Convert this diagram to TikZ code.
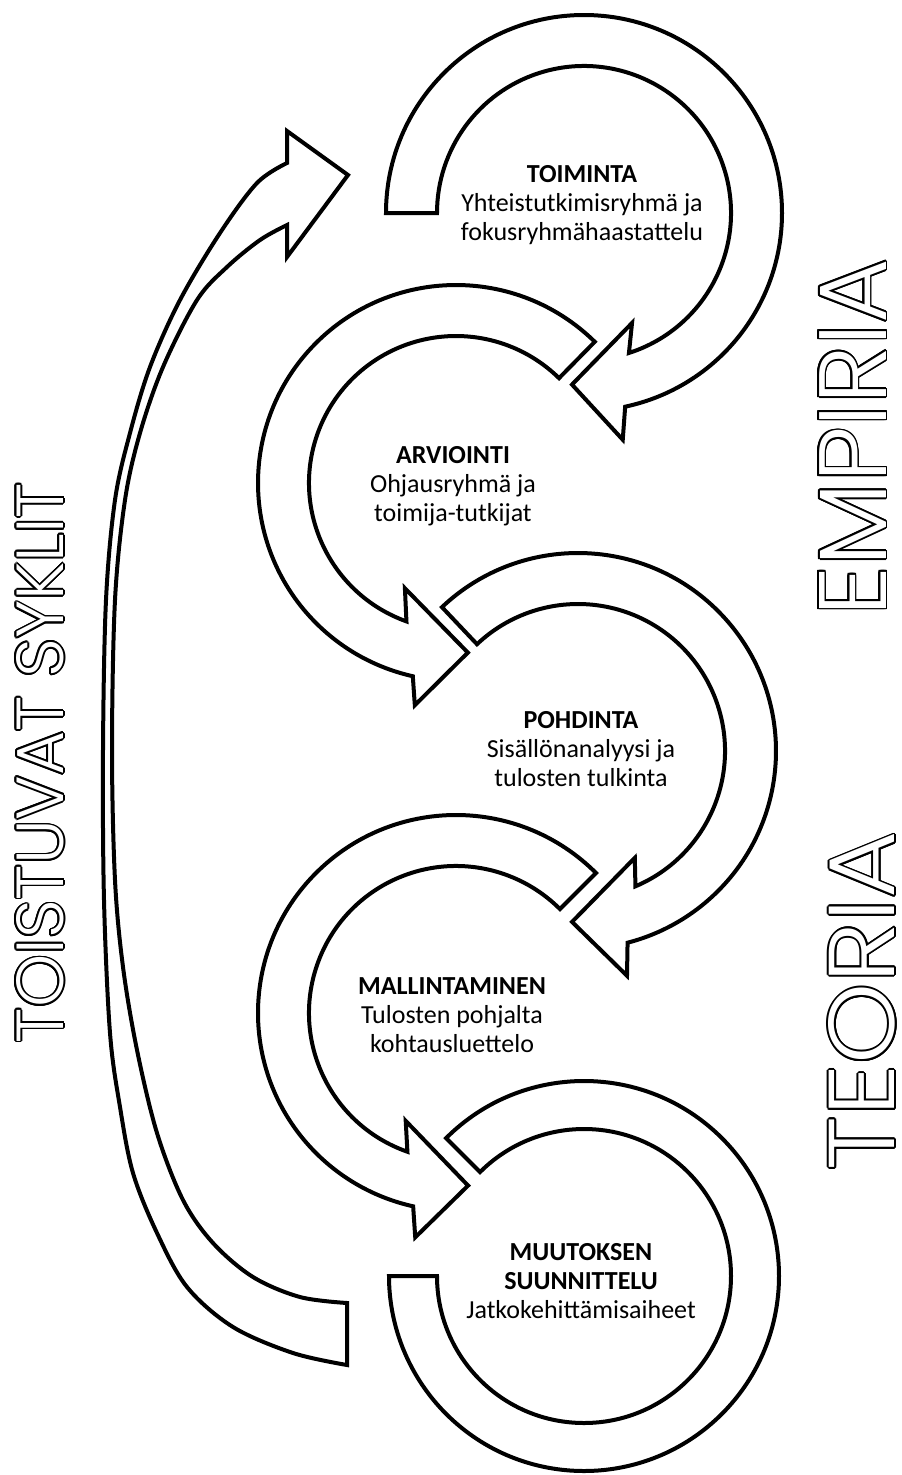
\documentclass[tikz,border=0pt]{standalone}
\usepackage{fontspec}
\setmainfont{Carlito}
\newfontfamily\popfont{Poppins Light}
\usepackage{graphicx}
\usetikzlibrary{calc}
\tikzset{
  band/.style={draw=black, line width=3pt, fill=white, line join=miter},
  lbl/.style={align=center, anchor=base, inner sep=0pt, font=\fontsize{19.5}{21.4}\selectfont},
  hollowblack/.style={rotate=90, inner sep=0pt, text=black},
  hollowwhite/.style={rotate=90, inner sep=0pt, text=white},
}
\newcommand\SyklitText{\resizebox{420pt}{35.25pt}{\popfont TOISTUVAT SYKLIT}}
\newcommand\EmpiriaText{\resizebox{267.75pt}{50.25pt}{\popfont EMPIRIA}}
\newcommand\TeoriaText{\resizebox{254.25pt}{49.5pt}{\popfont TEORIA}}
\begin{document}
\begin{tikzpicture}[x=0.75pt,y=-0.75pt]
\useasboundingbox (0,0) rectangle (901,1475);

% big curved return arrow on the left
\draw[band] plot[smooth, tension=0.55] coordinates {(287,163) (257,183) (220,233) (180,300) (150,367) (130,433) (115,500) (106,600) (103,750) (104,900) (110,1033) (120,1107) (133,1173) (157,1233) (187,1287) (233,1327) (293,1353) (347,1365)}
  -- plot[smooth, tension=0.55] coordinates {(347,1303) (300,1297) (253,1277) (213,1243) (183,1200) (157,1133) (137,1050) (123,967) (115,880) (112,750) (115,600) (125,500) (140,433) (163,367) (197,300) (227,267) (260,240) (287,225)}
  -- (287,257) -- (348,175) -- (287,131) -- cycle;

% circle 1 (TOIMINTA)
\begin{scope}[shift={(584,213)}]
\draw[band] (180:198) arc[start angle=180, end angle=438, radius=198] -- (440.3:230) -- (454:172) -- (426.4:120) -- (432.2:147) arc[start angle=432.2, end angle=180, radius=147] -- cycle;
\end{scope}
% circle 2 (ARVIOINTI)
\begin{scope}[shift={(456,483)}]
\draw[band] (-45.5:198) arc[start angle=-45.5, end angle=-257.4, radius=198] -- (-259.5:226) -- (-274:170) -- (-244.1:117) -- (-250.3:147) arc[start angle=-250.3, end angle=-45.5, radius=147] -- cycle;
\end{scope}
% circle 3 (POHDINTA)
\begin{scope}[shift={(578,751)}]
\draw[band] (226.6:198) arc[start angle=226.6, end angle=435.5, radius=198] -- (437.7:230) -- (452:171) -- (422:121) -- (427:147) arc[start angle=427, end angle=226.6, radius=147] -- cycle;
\end{scope}
% circle 4 (MALLINTAMINEN)
\begin{scope}[shift={(456,1013)}]
\draw[band] (-45:198) arc[start angle=-45, end angle=-257.5, radius=198] -- (-259.7:228) -- (-274:173) -- (-245:119) -- (-250.7:147) arc[start angle=-250.7, end angle=-45, radius=147] -- cycle;
\end{scope}
% circle 5 (MUUTOKSEN SUUNNITTELU)
\begin{scope}[shift={(584,1276)}]
\draw[band] (225:195) arc[start angle=225, end angle=540, radius=195] -- (540:147) arc[start angle=540, end angle=225, radius=147] -- cycle;
\end{scope}

% labels (anchor = baseline of last line)
\node[lbl] (toiminta) at (582,240) {\textbf{TOIMINTA}\\Yhteistutkimisryhmä ja\\fokusryhmähaastattelu};
\node[lbl] (arviointi) at (453,521) {\textbf{ARVIOINTI}\\Ohjausryhmä ja\\toimija-tutkijat};
\node[lbl] (pohdinta) at (581,786) {\textbf{POHDINTA}\\Sisällönanalyysi ja\\tulosten tulkinta};
\node[lbl] (mallintaminen) at (452,1052) {\textbf{MALLINTAMINEN}\\Tulosten pohjalta\\kohtausluettelo};
\node[lbl] (muutos) at (581,1318) {\textbf{MUUTOKSEN}\\\textbf{SUUNNITTELU}\\Jatkokehittämisaiheet};

% hollow rotated texts
\foreach \a [count=\i] in {0,22.5,...,337.5} {
  \node[hollowblack] (sykb\i) at ($(40,763)+(\a:1.8)$) {\SyklitText};
  \node[hollowblack] (empb\i) at ($(852.5,437.5)+(\a:1.8)$) {\EmpiriaText};
  \node[hollowblack] (teob\i) at ($(862,1001)+(\a:1.8)$) {\TeoriaText};
}
\node[hollowwhite] (syklit) at (40,763) {\SyklitText};
\node[hollowwhite] (empiria) at (852.5,437.5) {\EmpiriaText};
\node[hollowwhite] (teoria) at (862,1001) {\TeoriaText};
\end{tikzpicture}
\end{document}
